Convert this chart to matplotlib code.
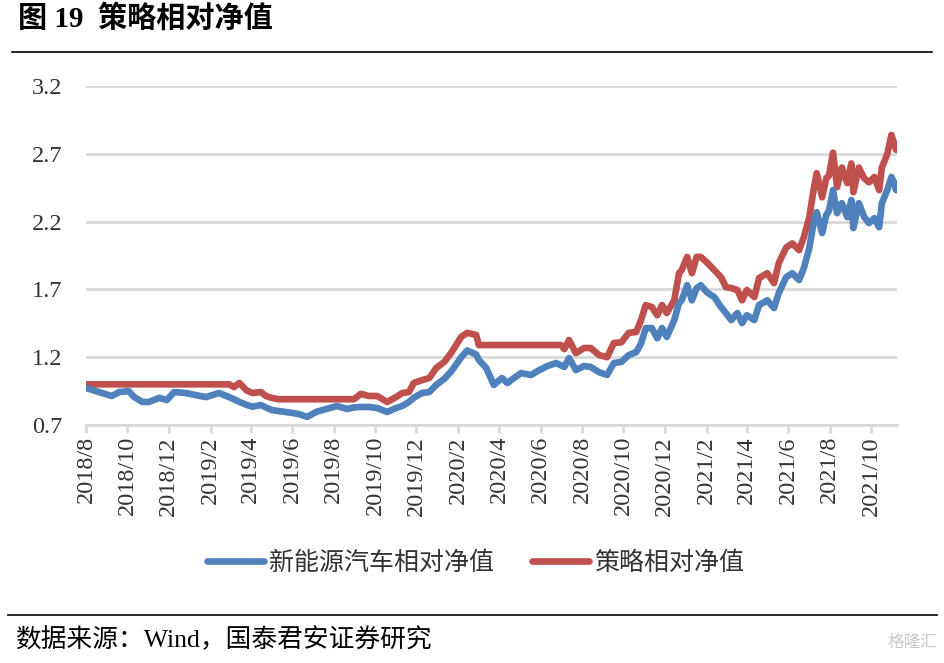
import matplotlib
matplotlib.use('Agg')
import matplotlib.pyplot as plt
from matplotlib.lines import Line2D
import pandas as pd

plt.rcParams['font.family'] = ['Liberation Serif', 'Noto Sans CJK SC', 'DejaVu Sans']

# sampled from the chart (roughly every 1-2 weeks)
dates = [
    '2018-08-01', '2018-08-20', '2018-09-08', '2018-09-19', '2018-10-03', '2018-10-11',
    '2018-10-23', '2018-11-02', '2018-11-17', '2018-11-28', '2018-12-09', '2018-12-26',
    '2019-01-10', '2019-01-25', '2019-02-13', '2019-02-28', '2019-03-07', '2019-03-15',
    '2019-03-25', '2019-04-03', '2019-04-16', '2019-04-23', '2019-05-02', '2019-05-12',
    '2019-06-01', '2019-06-11', '2019-06-23', '2019-07-06', '2019-07-21', '2019-08-06',
    '2019-08-21', '2019-08-31', '2019-09-10', '2019-09-22', '2019-10-04', '2019-10-19',
    '2019-11-01', '2019-11-10', '2019-11-20', '2019-11-27', '2019-12-09', '2019-12-20',
    '2019-12-30', '2020-01-11', '2020-01-22', '2020-02-05', '2020-02-14', '2020-02-27',
    '2020-03-02', '2020-03-13', '2020-03-24', '2020-04-05', '2020-04-13', '2020-04-23',
    '2020-05-03', '2020-05-18', '2020-05-30', '2020-06-11', '2020-06-24', '2020-07-01',
    '2020-07-06', '2020-07-13', '2020-07-23', '2020-08-04', '2020-08-14', '2020-08-26',
    '2020-09-07', '2020-09-17', '2020-09-28', '2020-10-09', '2020-10-20', '2020-10-27',
    '2020-11-03', '2020-11-12', '2020-11-20', '2020-11-27', '2020-12-04', '2020-12-15',
    '2020-12-22', '2020-12-26', '2021-01-03', '2021-01-10', '2021-01-17', '2021-01-23',
    '2021-02-01', '2021-02-12', '2021-02-22', '2021-03-01', '2021-03-09', '2021-03-18',
    '2021-03-25', '2021-04-01', '2021-04-12', '2021-04-19', '2021-05-01', '2021-05-11',
    '2021-05-18', '2021-05-29', '2021-06-07', '2021-06-17', '2021-06-24', '2021-07-02',
    '2021-07-09', '2021-07-13', '2021-07-21', '2021-07-27', '2021-07-31', '2021-08-06',
    '2021-08-12', '2021-08-19', '2021-08-27', '2021-09-02', '2021-09-05', '2021-09-13',
    '2021-09-21', '2021-09-28', '2021-10-06', '2021-10-13', '2021-10-17', '2021-10-25',
    '2021-10-31', '2021-11-04', '2021-11-07',
]

nev_nav = [
    0.973, 0.943, 0.914, 0.943, 0.950, 0.906,
    0.870, 0.870, 0.900, 0.884, 0.943, 0.936,
    0.920, 0.906, 0.936, 0.906, 0.890, 0.870,
    0.850, 0.835, 0.847, 0.830, 0.810, 0.803,
    0.789, 0.780, 0.760, 0.796, 0.818, 0.840,
    0.818, 0.830, 0.833, 0.833, 0.825, 0.796,
    0.825, 0.840, 0.870, 0.900, 0.936, 0.943,
    0.995, 1.040, 1.100, 1.200, 1.250, 1.220,
    1.180, 1.120, 0.995, 1.047, 1.010, 1.047,
    1.083, 1.069, 1.105, 1.135, 1.157, 1.140,
    1.128, 1.194, 1.105, 1.135, 1.128, 1.090,
    1.069, 1.157, 1.165, 1.216, 1.238, 1.300,
    1.415, 1.415, 1.340, 1.415, 1.350, 1.474,
    1.600, 1.620, 1.732, 1.620, 1.710, 1.732,
    1.680, 1.644, 1.570, 1.526, 1.474, 1.526,
    1.452, 1.510, 1.474, 1.585, 1.620, 1.563,
    1.673, 1.791, 1.820, 1.770, 1.858, 2.005,
    2.210, 2.270, 2.116, 2.250, 2.280, 2.433,
    2.263, 2.337, 2.234, 2.360, 2.153, 2.337,
    2.234, 2.190, 2.226, 2.160, 2.337, 2.433,
    2.530, 2.490, 2.433,
]

strategy_nav = [
    1.000, 1.000, 1.000, 1.000, 1.000, 1.000,
    1.000, 1.000, 1.000, 1.000, 1.000, 1.000,
    1.000, 1.000, 1.000, 1.000, 0.980, 1.010,
    0.958, 0.936, 0.943, 0.914, 0.900, 0.890,
    0.890, 0.890, 0.890, 0.890, 0.890, 0.890,
    0.890, 0.890, 0.930, 0.914, 0.914, 0.870,
    0.906, 0.936, 0.943, 1.010, 1.030, 1.047,
    1.120, 1.165, 1.238, 1.350, 1.380, 1.364,
    1.290, 1.290, 1.290, 1.290, 1.290, 1.290,
    1.290, 1.290, 1.290, 1.290, 1.290, 1.290,
    1.260, 1.327, 1.230, 1.268, 1.268, 1.216,
    1.200, 1.305, 1.310, 1.380, 1.386, 1.474,
    1.585, 1.570, 1.510, 1.585, 1.526, 1.620,
    1.820, 1.843, 1.940, 1.820, 1.940, 1.940,
    1.900, 1.843, 1.790, 1.718, 1.710, 1.696,
    1.620, 1.696, 1.644, 1.784, 1.820, 1.747,
    1.895, 2.010, 2.040, 1.990, 2.086, 2.234,
    2.455, 2.558, 2.380, 2.520, 2.540, 2.710,
    2.455, 2.600, 2.485, 2.630, 2.418, 2.600,
    2.520, 2.490, 2.530, 2.433, 2.600, 2.700,
    2.840, 2.780, 2.730,
]

series_names = ['新能源汽车相对净值', '策略相对净值']
y_ticks = [0.7, 1.2, 1.7, 2.2, 2.7, 3.2]

blue = '#4F81BD'
red = '#C0504D'
grid_color = '#D9D9D9'

x = pd.to_datetime(dates)

fig = plt.figure(figsize=(9.45, 6.63), dpi=100)
ax = fig.add_axes([0.091, 0.359, 0.858, 0.511])

ax.plot(x, nev_nav, color=blue, lw=4.8, solid_capstyle='round', solid_joinstyle='round',
        label=series_names[0], zorder=3)
ax.plot(x, strategy_nav, color=red, lw=4.8, solid_capstyle='round', solid_joinstyle='round',
        label=series_names[1], zorder=2)

ax.set_ylim(0.7, 3.2)
ax.set_yticks(y_ticks)
ax.set_yticklabels(['%.1f' % v for v in y_ticks])
ax.set_xlim(pd.Timestamp('2018-08-01'), pd.Timestamp('2021-11-08'))

tick_dates = pd.date_range('2018-08-01', '2021-10-01', freq='2MS')
ax.set_xticks(tick_dates)
ax.set_xticklabels(['%d/%d' % (d.year, d.month) for d in tick_dates], rotation=90,
                   va='top', ha='center')

ax.yaxis.grid(True, color=grid_color, lw=2)
ax.set_axisbelow(True)
for s in ['top', 'right', 'left']:
    ax.spines[s].set_visible(False)
ax.spines['bottom'].set_color(grid_color)
ax.spines['bottom'].set_linewidth(2)
ax.tick_params(axis='y', length=0, pad=17, labelsize=17.5, labelcolor='#333333')
ax.tick_params(axis='x', length=6, width=2, color=grid_color, pad=2, labelsize=17.5,
               labelcolor='#333333')

fig.legend(loc='center', bbox_to_anchor=(0.503, 0.151), ncol=2, frameon=False,
           fontsize=18, handlelength=2.3, handletextpad=0.2, columnspacing=1.5,
           labelcolor='#333333')

fig.text(0.019, 0.972, '图 19  策略相对净值', fontsize=21, fontweight='bold', va='center')
fig.add_artist(Line2D([0.013, 0.986], [0.921, 0.921], color='black', lw=1.2))
fig.add_artist(Line2D([0.008, 0.992], [0.072, 0.072], color='black', lw=1.2))
fig.text(0.016, 0.035, '数据来源：Wind，国泰君安证券研究', fontsize=18.5, va='center')
fig.text(0.992, 0.030, '格隆汇', fontsize=12, color='#C8C8C8', ha='right', va='center')

fig.savefig('out.png', dpi=100)
